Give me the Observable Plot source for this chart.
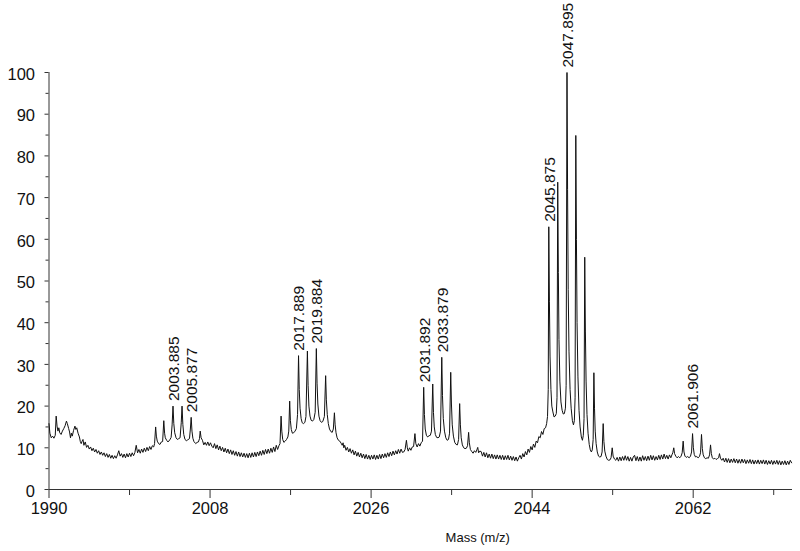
<!DOCTYPE html>
<html>
<head>
<meta charset="utf-8">
<script src="https://cdn.jsdelivr.net/npm/d3@7"></script>
<script src="https://cdn.jsdelivr.net/npm/@observablehq/plot@0.6"></script>
<style>
  html, body { margin: 0; padding: 0; background: #fff; }
</style>
</head>
<body>
<div id="chart"></div>
<script>
// ---- Data: [m/z, relative intensity] ----
const segA = [
  [1990.0,15.8],[1990.1,13.5],[1990.25,12.4],[1990.4,12.8],[1990.55,12.3],[1990.7,13.0],[1990.8,17.6],[1990.9,15.2],
  [1991.0,14.0],[1991.1,14.8],[1991.2,13.6],[1991.35,13.2],[1991.5,14.0],[1991.65,14.6],[1991.8,15.3],[1991.95,16.4],
  [1992.05,15.8],[1992.2,14.6],[1992.3,13.8],[1992.4,12.4],[1992.5,13.5],[1992.6,12.8],[1992.75,14.2],[1992.9,15.2],
  [1993.0,14.4],[1993.1,14.8],[1993.25,13.5],[1993.4,12.6],[1993.5,11.5],[1993.6,11.0],[1993.7,11.6],[1993.8,12.0],
  [1993.9,10.6],[1994.05,11.4],[1994.2,10.1],[1994.35,10.6],[1994.5,9.7],[1994.65,10.2],[1994.8,9.3],[1994.95,9.9],
  [1995.1,9.0],[1995.25,9.6],[1995.4,8.7],[1995.55,9.3],[1995.7,8.4],[1995.85,9.0],[1996.0,8.2],[1996.15,8.8],
  [1996.3,7.9],[1996.45,8.6],[1996.6,7.7],[1996.75,8.4],[1996.9,7.5],[1997.05,8.2],[1997.2,7.4],[1997.35,8.1],
  [1997.5,7.5],[1997.65,8.3],[1997.8,9.3],[1997.95,8.0],[1998.1,8.6],[1998.25,7.7],[1998.4,8.5],[1998.55,7.6],
  [1998.7,8.6],[1998.85,7.8],[1999.0,8.7],[1999.15,7.9],[1999.3,8.8],[1999.45,8.1],[1999.6,8.9],[1999.75,10.6],
  [1999.9,8.8],[2000.05,9.6],[2000.2,8.7],[2000.35,9.7],[2000.5,8.9],[2000.65,9.9],[2000.8,9.1],[2000.95,10.1],
  [2001.1,9.3],[2001.25,10.3],[2001.4,9.6],[2001.55,10.5],[2001.7,10.2],[2001.8,11.0]
];
const segB = [
  [2001.92,15.0],[2002.0,12.8],[2002.1,11.6],[2002.25,11.0],[2002.4,10.8],[2002.55,11.4],[2002.7,11.5],[2002.83,16.5],
  [2002.92,13.5],[2003.0,12.4],[2003.15,11.8],[2003.3,11.4],[2003.5,11.9],[2003.65,12.5],[2003.76,15.5],[2003.86,20.0],
  [2003.95,15.8],[2004.05,13.6],[2004.2,12.4],[2004.35,12.0],[2004.5,12.2],[2004.65,12.4],[2004.78,16.0],[2004.87,20.0],
  [2004.96,15.6],[2005.06,13.2],[2005.2,12.0],[2005.35,11.7],[2005.5,11.9],[2005.7,12.2],[2005.8,14.5],[2005.89,17.3],
  [2005.98,14.0],[2006.08,12.3],[2006.2,11.5],[2006.4,11.0],[2006.55,11.3],[2006.7,11.4],[2006.82,12.2],[2006.9,14.0],
  [2007.0,12.4],[2007.15,11.8],[2007.3,10.7],[2007.45,11.3],[2007.6,10.6],[2007.75,11.4],[2007.9,10.5],[2008.05,11.2],
  [2008.2,10.4]
];
const segC = [
  [2008.35,10.0],[2008.5,11.0],[2008.65,9.8],[2008.8,10.7],[2008.95,9.5],[2009.1,10.4],[2009.25,9.3],[2009.4,10.1],
  [2009.55,9.0],[2009.7,9.9],[2009.85,8.8],[2010.0,9.7],[2010.15,8.6],[2010.3,9.5],[2010.45,8.4],[2010.6,9.3],
  [2010.75,8.2],[2010.9,9.1],[2011.05,8.0],[2011.2,9.0],[2011.35,7.9],[2011.5,8.8],[2011.65,7.8],[2011.8,8.7],
  [2011.95,7.7],[2012.1,8.6],[2012.25,7.6],[2012.4,8.7],[2012.55,7.7],[2012.7,8.8],[2012.85,7.8],[2013.0,8.9],
  [2013.15,7.9],[2013.3,9.0],[2013.45,8.1],[2013.6,9.2],[2013.75,8.2],[2013.9,9.4],[2014.05,8.4],[2014.2,9.6],
  [2014.35,8.6],[2014.5,9.7],[2014.65,8.7],[2014.8,9.9],[2014.95,8.9],[2015.1,10.2],[2015.25,9.1],[2015.4,10.6],
  [2015.55,9.6],[2015.7,10.5],[2015.82,11.0]
];
const segD = [
  [2015.94,17.6],[2016.02,14.0],[2016.12,12.0],[2016.25,11.3],[2016.4,11.6],[2016.55,12.0],[2016.7,12.6],[2016.8,14.0],
  [2016.9,21.2],[2016.98,16.5],[2017.08,14.4],[2017.2,13.5],[2017.35,13.6],[2017.5,14.0],[2017.65,14.6],[2017.78,18.0],
  [2017.89,32.1],[2017.97,24.0],[2018.06,19.5],[2018.18,17.0],[2018.3,16.0],[2018.45,15.8],[2018.6,16.1],[2018.72,17.5],
  [2018.88,33.2],[2018.96,25.0],[2019.05,20.0],[2019.17,17.6],[2019.3,16.6],[2019.45,16.4],[2019.6,16.8],[2019.75,18.5],
  [2019.88,33.8],[2019.96,25.5],[2020.05,20.5],[2020.17,17.6],[2020.3,16.5],[2020.45,16.1],[2020.6,16.3],[2020.78,17.5],
  [2020.92,27.3],[2021.0,21.5],[2021.1,18.0],[2021.22,15.8],[2021.35,14.5],[2021.5,13.9],[2021.65,13.7],[2021.78,14.5],
  [2021.9,18.4],[2021.98,15.5],[2022.08,13.6],[2022.2,12.4],[2022.35,11.8],[2022.5,11.6],[2022.65,11.1],[2022.77,10.6],
  [2022.87,11.2],[2022.95,10.0],[2023.05,10.6],[2023.2,9.4],[2023.35,10.1],[2023.5,9.0]
];
const segE = [
  [2023.65,9.8],[2023.8,8.7],[2023.95,9.5],[2024.1,8.3],[2024.25,9.2],[2024.4,8.0],[2024.55,8.9],[2024.7,7.8],
  [2024.85,8.7],[2025.0,7.6],[2025.15,8.5],[2025.3,7.4],[2025.45,8.4],[2025.6,7.3],[2025.75,8.2],[2025.9,7.2],
  [2026.05,8.2],[2026.2,7.3],[2026.35,8.3],[2026.5,7.2],[2026.65,8.2],[2026.8,7.3],[2026.95,8.4],[2027.1,7.4],
  [2027.25,8.5],[2027.4,7.6],[2027.55,8.6],[2027.7,7.7],[2027.85,8.8],[2028.0,7.9],[2028.15,9.0],[2028.3,8.1],
  [2028.45,9.2],[2028.6,8.3],[2028.75,9.3],[2028.9,8.5],[2029.05,9.6],[2029.2,8.7],[2029.35,9.7],[2029.5,8.9],
  [2029.65,9.0],[2029.8,9.6],[2029.95,11.8],[2030.05,10.0],[2030.15,9.2],[2030.3,10.0],[2030.45,9.4],[2030.6,10.2],
  [2030.75,10.3],[2030.9,13.4],[2031.0,11.0],[2031.15,10.2],[2031.3,11.0],[2031.45,10.4],[2031.6,11.2],[2031.75,11.6]
];
const segF = [
  [2031.88,24.5],[2031.96,18.0],[2032.05,14.5],[2032.18,13.0],[2032.32,12.6],[2032.48,12.9],[2032.62,13.0],[2032.75,14.0],
  [2032.89,25.3],[2032.97,18.5],[2033.06,15.0],[2033.18,13.2],[2033.32,12.5],[2033.48,12.4],[2033.62,12.6],[2033.76,14.0],
  [2033.9,31.7],[2033.98,22.5],[2034.07,17.0],[2034.2,14.0],[2034.35,12.4],[2034.5,11.8],[2034.65,12.0],[2034.77,13.5],
  [2034.9,28.1],[2034.98,20.5],[2035.07,15.5],[2035.2,12.8],[2035.35,11.3],[2035.5,10.8],[2035.65,10.7],[2035.78,12.0],
  [2035.9,20.6],[2035.98,15.5],[2036.07,12.4],[2036.2,10.7],[2036.35,10.0],[2036.5,9.8],[2036.65,9.9],[2036.78,10.5],
  [2036.9,13.7],[2036.98,11.2],[2037.1,9.6],[2037.25,9.1],[2037.4,8.7],[2037.55,9.3],[2037.7,8.9],[2037.82,9.5],
  [2037.92,10.1],[2038.02,8.8],[2038.15,9.2]
];
const segG = [
  [2038.3,9.1],[2038.45,8.0],[2038.6,8.9],[2038.75,7.8],[2038.9,8.8],[2039.05,7.6],[2039.2,8.5],[2039.35,7.5],
  [2039.5,8.5],[2039.65,7.4],[2039.8,8.3],[2039.95,7.3],[2040.1,8.3],[2040.25,7.3],[2040.4,8.2],[2040.55,7.2],
  [2040.7,8.2],[2040.85,7.1],[2041.0,8.1],[2041.15,7.2],[2041.3,8.2],[2041.45,7.1],[2041.6,8.0],[2041.75,7.0],
  [2041.9,7.9],[2042.05,6.9],[2042.2,7.8],[2042.35,6.8],[2042.5,7.6],[2042.65,8.2],[2042.8,7.3],[2042.95,8.6],
  [2043.1,7.8],[2043.25,9.1],[2043.4,8.3],[2043.55,9.7],[2043.7,8.9],[2043.85,10.3],[2044.0,9.5],[2044.15,10.9],
  [2044.3,10.1],[2044.45,11.6],[2044.6,11.2],[2044.75,12.7],[2044.9,12.4],[2045.05,13.9],[2045.2,13.2],[2045.35,14.6],
  [2045.5,14.8],[2045.62,15.8],[2045.72,17.5],[2045.8,24.0]
];
const segH = [
  [2045.86,63.0],[2045.93,45.0],[2046.0,32.0],[2046.1,24.0],[2046.2,20.0],[2046.32,18.6],[2046.45,17.4],[2046.58,17.6],
  [2046.7,18.2],[2046.78,22.0],[2046.86,73.7],[2046.93,52.0],[2047.0,36.0],[2047.1,26.0],[2047.22,21.0],[2047.35,19.0],
  [2047.48,18.1],[2047.6,18.2],[2047.72,19.5],[2047.8,25.0],[2047.895,100.0],[2047.96,72.0],[2048.03,48.0],[2048.12,33.0],
  [2048.24,24.0],[2048.36,19.5],[2048.5,16.5],[2048.62,15.5],[2048.72,16.5],[2048.8,22.0],[2048.88,84.9],[2048.95,60.0],
  [2049.02,40.0],[2049.12,27.0],[2049.24,19.0],[2049.36,15.0],[2049.5,12.6],[2049.62,11.8],[2049.72,13.0],[2049.8,17.0],
  [2049.88,55.7],[2049.95,38.0],[2050.03,26.0],[2050.13,18.0],[2050.25,13.5],[2050.38,10.8],[2050.5,9.5],[2050.62,9.0],
  [2050.72,9.5],[2050.82,12.0],[2050.9,28.0],[2050.97,19.5],[2051.05,14.0],[2051.15,11.0],[2051.28,9.0],[2051.42,8.0],
  [2051.55,7.8],[2051.7,7.9],[2051.82,9.0],[2051.94,15.8],[2052.02,11.5],[2052.12,9.2],[2052.25,8.0],[2052.4,7.2],
  [2052.55,7.0],[2052.7,7.1],[2052.82,7.6],[2052.95,10.0],[2053.05,8.0],[2053.2,7.3],[2053.35,7.0]
];
const segI = [
  [2053.5,7.7],[2053.65,6.8],[2053.8,7.8],[2053.95,6.9],[2054.1,7.9],[2054.25,7.0],[2054.4,8.1],[2054.55,7.0],
  [2054.7,7.9],[2054.85,6.8],[2055.0,7.7],[2055.15,6.8],[2055.3,7.8],[2055.45,8.2],[2055.6,6.9],[2055.75,7.9],
  [2055.9,6.8],[2056.05,7.8],[2056.2,6.8],[2056.35,8.1],[2056.5,7.0],[2056.65,7.9],[2056.8,6.9],[2056.95,8.0],
  [2057.1,7.0],[2057.25,8.2],[2057.4,7.1],[2057.55,8.1],[2057.7,7.0],[2057.85,7.9],[2058.0,7.1],[2058.15,8.2],
  [2058.3,7.2],[2058.45,8.3],[2058.6,7.3],[2058.75,8.5],[2058.9,7.4],[2059.05,8.2],[2059.2,7.3],[2059.35,8.3],
  [2059.5,7.6],[2059.62,8.3],[2059.72,8.8]
];
const segJ = [
  [2059.83,10.0],[2059.92,8.6],[2060.05,8.0],[2060.2,7.6],[2060.35,7.9],[2060.5,7.6],[2060.65,8.0],[2060.77,8.8],
  [2060.88,11.6],[2060.97,9.0],[2061.08,8.0],[2061.22,7.7],[2061.38,7.9],[2061.55,7.6],[2061.7,8.0],[2061.82,9.0],
  [2061.93,13.4],[2062.02,10.0],[2062.12,8.4],[2062.26,7.8],[2062.4,7.9],[2062.55,7.6],[2062.7,7.9],[2062.82,8.8],
  [2062.93,13.2],[2063.02,9.8],[2063.12,8.3],[2063.26,7.6],[2063.4,7.4],[2063.55,7.6],[2063.7,7.5],[2063.83,8.3],
  [2063.94,10.7],[2064.03,8.6],[2064.14,7.6],[2064.28,7.3],[2064.42,7.5],[2064.56,7.2],[2064.7,7.4],[2064.84,7.6],
  [2064.94,8.6],[2065.05,7.5],[2065.2,7.0]
];
const segK = [
  [2065.35,7.5],[2065.5,6.6],[2065.65,7.5],[2065.8,6.5],[2065.95,7.4],[2066.1,6.4],[2066.25,7.3],[2066.4,6.5],
  [2066.55,7.4],[2066.7,6.4],[2066.85,7.3],[2067.0,6.3],[2067.15,7.2],[2067.3,6.3],[2067.45,7.3],[2067.6,6.4],
  [2067.75,7.2],[2067.9,6.2],[2068.05,7.1],[2068.2,6.3],[2068.35,7.2],[2068.5,6.2],[2068.65,7.1],[2068.8,6.1],
  [2068.95,7.0],[2069.1,6.2],[2069.25,7.1],[2069.4,6.1],[2069.55,7.0],[2069.7,6.2],[2069.85,7.1],[2070.0,6.1],
  [2070.15,7.0],[2070.3,6.0],[2070.45,6.9],[2070.6,6.1],[2070.75,7.0],[2070.9,6.0],[2071.05,6.9],[2071.2,6.1],
  [2071.35,7.0],[2071.5,6.0],[2071.65,6.9],[2071.8,5.9],[2071.95,6.8],[2072.1,6.0],[2072.25,6.9],[2072.4,5.9],
  [2072.55,6.8],[2072.7,6.0],[2072.85,7.0],[2073.0,6.4]
];

// Annotated peaks
const peakMass = [2003.885, 2005.877, 2017.889, 2019.884, 2031.892, 2033.879, 2045.875, 2047.895, 2061.906];
const peakIntensity = [20.0, 17.3, 32.1, 33.8, 24.5, 31.7, 63.0, 100.0, 13.4];
const peakText = ["2003.885", "2005.877", "2017.889", "2019.884", "2031.892", "2033.879", "2045.875", "2047.895", "2061.906"];

// Axis ticks
const xMajorTicks = [1990, 2008, 2026, 2044, 2062];
const xMinorTicks = [1999, 2017, 2035, 2053, 2071];
const yMajorTicks = [0, 10, 20, 30, 40, 50, 60, 70, 80, 90, 100];
const yMinorTicks = [5, 15, 25, 35, 45, 55, 65, 75, 85, 95];
const xDomain = [1990, 2073.1];
const yDomain = [0, 100];
const xLabel = "Mass (m/z)";

// ---- Build tables ----
const spectrum = [segA, segB, segC, segD, segE, segF, segG, segH, segI, segJ, segK]
  .flat().map(([mz, v]) => ({mz, v}));
const peaks = peakMass.map((m, i) => ({mz: m, v: peakIntensity[i], label: peakText[i]}));

const axisColor = "#333";
const font = "'Liberation Sans', Arial, Helvetica, sans-serif";

const chart = Plot.plot({
  width: 800,
  height: 551,
  marginLeft: 48.5,
  marginRight: 8,
  marginTop: 72,
  marginBottom: 62,
  style: {fontFamily: font, fontSize: "16.5px", color: "#111", background: "#fff", overflow: "visible"},
  x: {domain: xDomain},
  y: {domain: yDomain},
  marks: [
    // y ticks (marks only) and labels (text only, nudged slightly down like the reference)
    Plot.axisY(yMajorTicks, {tickSize: 4, stroke: axisColor, tickFormat: () => "", label: null}),
    Plot.axisY(yMajorTicks, {tickSize: 0, tickPadding: 14, dy: 2, fill: "#111", fontSize: 16.5, tickFormat: d => String(d), label: null}),
    Plot.axisY(yMinorTicks, {tickSize: 3, stroke: axisColor, tickFormat: () => "", label: null}),
    Plot.axisX(xMajorTicks, {tickSize: 9, tickPadding: 4, stroke: axisColor, fill: "#111", fontSize: 16.5, tickFormat: d => String(d), label: null}),
    Plot.axisX(xMinorTicks, {tickSize: 6, stroke: axisColor, tickFormat: () => "", label: null}),
    Plot.ruleX([xDomain[0]], {stroke: axisColor}),
    Plot.ruleY([yDomain[0]], {stroke: axisColor}),
    Plot.line(spectrum, {x: "mz", y: "v", stroke: "#111", strokeWidth: 1}),
    Plot.text(peaks, {x: "mz", y: "v", text: "label", rotate: -90, textAnchor: "start", dy: -5, dx: 1, fontSize: 15.5, fill: "#111"}),
    Plot.text([xLabel], {frameAnchor: "bottom", lineAnchor: "bottom", dx: 57, dy: 52, fontSize: 13, fill: "#111"})
  ]
});
document.getElementById("chart").appendChild(chart);
</script>
</body>
</html>
